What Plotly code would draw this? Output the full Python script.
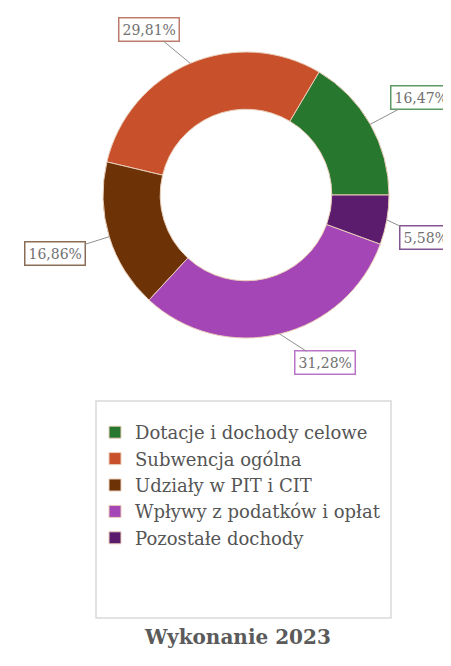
import math
import plotly.graph_objects as go

categories = ["Dotacje i dochody celowe", "Subwencja ogólna", "Udziały w PIT i CIT",
              "Wpływy z podatków i opłat", "Pozostałe dochody"]
values = [16.47, 29.81, 16.86, 31.28, 5.58]
colors = ["#27772f", "#c8502b", "#6d3206", "#a446b6", "#5b1c6e"]
border_colors = ["rgba(39,119,47,0.75)", "rgba(170,80,60,0.75)", "rgba(100,60,30,0.75)",
                 "rgba(164,70,182,0.75)", "rgba(91,28,110,0.75)"]
title_text = "Wykonanie 2023"

W, H = 451, 666
cx, cy, R = 238, 187, 143  # pixel center / radius of donut
total = sum(values)

fig = go.Figure(go.Pie(
    labels=categories, values=values, sort=False,
    direction="counterclockwise", rotation=90 - values[0] / total * 360, hole=0.6,
    marker=dict(colors=colors, line=dict(color="#e9cdb8", width=1)),
    textinfo="none", hoverinfo="label+percent",
    domain=dict(x=[(cx - R) / W, (cx + R) / W], y=[(H - cy - R) / H, (H - cy + R) / H]),
))

# label offsets (pixels) from slice edge to label box
offsets = [(51, -27), (-41, -34), (-54, 17), (45, 29), (39, 18)]
cum = 0
for v, bc, (ax, ay) in zip(values, border_colors, offsets):
    mid = (cum + v / 2) / total * 360
    cum += v
    th = math.radians(mid)
    px = cx + R * math.cos(th)
    py = cy - R * math.sin(th)
    fig.add_annotation(
        x=px / W, y=1 - py / H, xref="paper", yref="paper",
        text=f"{v:.2f}%".replace(".", ","), showarrow=True, arrowhead=0,
        arrowwidth=1, arrowcolor="#8f8f8f", ax=ax, ay=ay,
        bordercolor=bc, borderwidth=1.5, borderpad=3, bgcolor="white",
        font=dict(family="DejaVu Serif", size=14, color="#707070"),
    )

# legend frame
fig.add_shape(type="rect", xref="paper", yref="paper",
              x0=88 / W, x1=383 / W, y0=1 - 610 / H, y1=1 - 393 / H,
              line=dict(color="#d9d9d9", width=1.5), fillcolor="white", layer="below")

fig.add_annotation(x=229 / W, y=1 - 643 / H, xref="paper", yref="paper",
                   text=f"<b>{title_text}</b>", showarrow=False,
                   font=dict(family="DejaVu Serif", size=20, color="#5a5a5a"))

fig.update_layout(
    width=W, height=H, margin=dict(l=0, r=0, t=0, b=0),
    paper_bgcolor="white", plot_bgcolor="white",
    showlegend=True,
    legend=dict(x=87 / W, y=1 - 406 / H, xanchor="left", yanchor="top",
                bgcolor="rgba(0,0,0,0)", borderwidth=0,
                font=dict(family="DejaVu Serif", size=18, color="#555555"),
                itemwidth=30, tracegroupgap=0),
)

fig.write_html("out.html")
